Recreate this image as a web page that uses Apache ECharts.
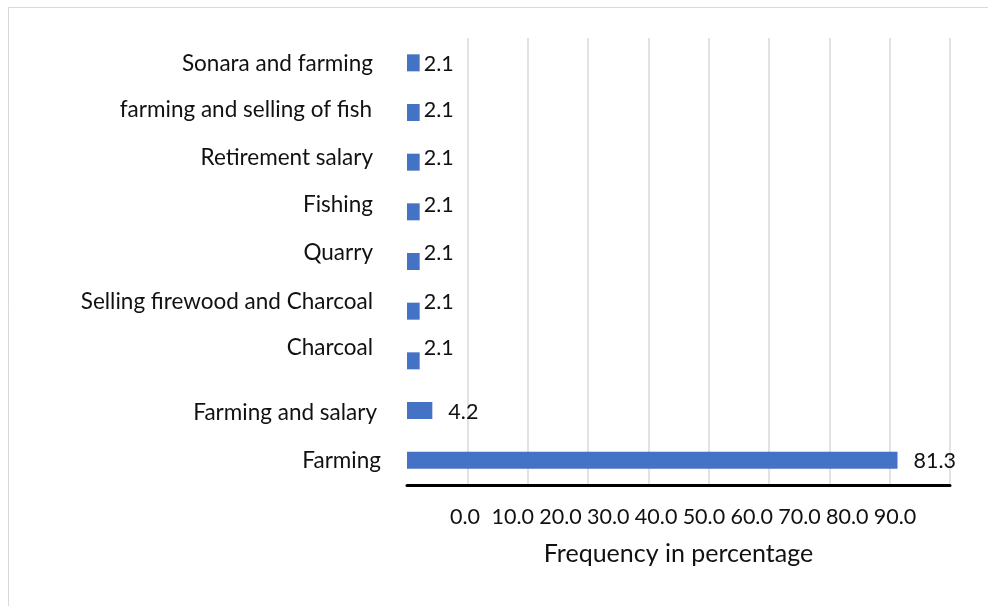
<!DOCTYPE html>
<html>
<head>
<meta charset="utf-8">
<script src="https://cdn.jsdelivr.net/npm/echarts@6/dist/echarts.min.js"></script>
<style>
  html, body { margin: 0; padding: 0; background: #fff; }
  #chart { width: 988px; height: 606px; }
</style>
</head>
<body>
<div id="chart"></div>
<script>
// Main sources of income, top to bottom
const categories = [
  'Sonara and farming',
  'farming and selling of fish',
  'Retirement salary',
  'Fishing',
  'Quarry',
  'Selling firewood and Charcoal',
  'Charcoal',
  'Farming and salary',
  'Farming'
];
const percentages = [2.1, 2.1, 2.1, 2.1, 2.1, 2.1, 2.1, 4.2, 81.3];
const tickValues = [0, 10, 20, 30, 40, 50, 60, 70, 80, 90];

// Small vertical nudges (px) for each row's labels, top to bottom
const rowLabelShift = [1, -2.5, -4.5, -7, -8.5, -9, -13, 2, 1];
// Rightward nudges (px) for the category labels
const catLabelShiftX = [0, -1, 0, 0, 0, 0, 0, 4, 8];
const CAT_PAD = 8;

const FONT = 'Lato, "Open Sans", sans-serif';
const CAT_SIZE = 22.5;
const VAL_SIZE = 21.5;
const NAME_SIZE = 25;
const TEXT = '#111';

const rich = {};
categories.forEach((c, i) => {
  const dy = rowLabelShift[i];
  rich['r' + i] = {
    fontFamily: FONT, fontSize: CAT_SIZE, color: TEXT,
    padding: [dy > 0 ? 2 * dy : 0, CAT_PAD - catLabelShiftX[i], dy < 0 ? -2 * dy : 0, 0]
  };
});

const gridColors = tickValues.map((v, i) => (i === 0 ? 'rgba(0,0,0,0)' : '#d9d9d9'));

const chart = echarts.init(document.getElementById('chart'), null, { renderer: 'canvas' });
chart.setOption({
  animation: false,
  backgroundColor: '#fff',
  textStyle: { fontFamily: FONT },
  graphic: [{
    type: 'polyline',
    shape: { points: [[8.5, 606], [8.5, 7.5], [988, 7.5]] },
    style: { stroke: '#d9d9d9', lineWidth: 1, fill: null },
    silent: true
  }],
  grid: [
    { left: 407, right: 38, top: 38, bottom: 121 },
    { left: 465, width: 430, top: 480, height: 5 }
  ],
  xAxis: [
    {
      type: 'value', gridIndex: 0, min: 0, max: 90, interval: 10,
      axisLine: { show: true, lineStyle: { color: '#000', width: 3 } },
      axisTick: { show: false },
      axisLabel: { show: false },
      splitLine: { show: true, lineStyle: { color: gridColors, width: 1.5 } },
      name: 'Frequency in percentage',
      nameLocation: 'middle',
      nameGap: 56,
      nameTextStyle: { fontFamily: FONT, fontSize: NAME_SIZE, color: TEXT }
    },
    {
      type: 'value', gridIndex: 1, min: 0, max: 90, interval: 10,
      axisLine: { show: false }, axisTick: { show: false }, splitLine: { show: false },
      axisLabel: {
        margin: 21, fontFamily: FONT, fontSize: VAL_SIZE, color: TEXT,
        formatter: v => v.toFixed(1),
        showMinLabel: true, showMaxLabel: true
      }
    }
  ],
  yAxis: [
    {
      type: 'category', gridIndex: 0, data: categories, inverse: true,
      axisLine: { show: false }, axisTick: { show: false },
      axisLabel: {
        margin: 34 - CAT_PAD,
        formatter: (value, idx) => '{r' + idx + '|' + value + '}',
        rich: rich
      }
    },
    { type: 'value', gridIndex: 1, show: false }
  ],
  series: [{
    type: 'bar',
    xAxisIndex: 0, yAxisIndex: 0,
    barWidth: 17,
    itemStyle: { color: '#4472C4' },
    label: {
      show: true, position: 'right',
      fontFamily: FONT, fontSize: VAL_SIZE, color: TEXT,
      formatter: p => p.value.toFixed(1)
    },
    data: percentages.map((v, i) => ({
      value: v,
      label: { distance: v < 4 ? 4 : 16, offset: [0, rowLabelShift[i]] }
    }))
  }]
});
</script>
</body>
</html>
